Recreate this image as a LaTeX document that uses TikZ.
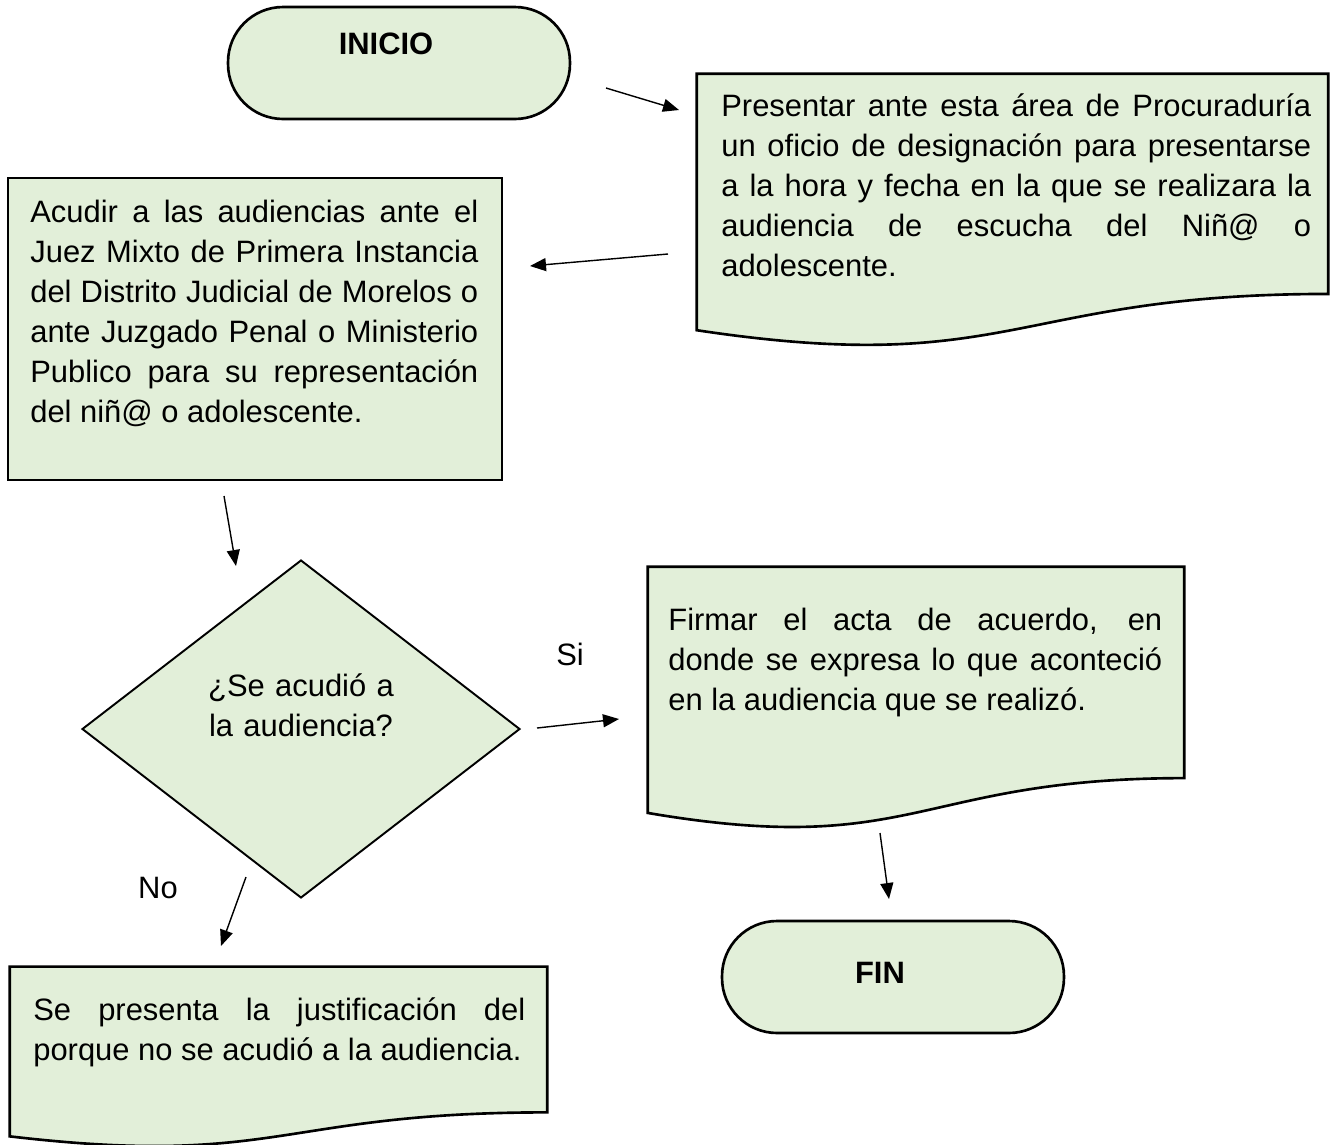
\documentclass[tikz,border=0pt]{standalone}
\usepackage{fontspec}
\setmainfont{Liberation Sans}
\usetikzlibrary{calc,arrows.meta,shapes.geometric}
\definecolor{boxgreen}{HTML}{E2EFD9}

\newcommand{\bodyfont}{\fontsize{17.6}{22.8}\selectfont\tolerance=10000\hyphenpenalty=10000}
% document outline (flat top, wavy bottom)
\newcommand{\drawdoc}[1]{%
  \filldraw[docline] (#1.north west) -- (#1.north east)
    -- ($(#1.north east)!0.802!(#1.south east)$)
    .. controls ($(#1.north)!0.802!(#1.south)$) and ($(#1.north)!1.1075!(#1.south)$)
    .. ($(#1.north west)!0.934!(#1.south west)$) -- cycle;}

\begin{document}
\begin{tikzpicture}[x=0.02cm, y=-0.02cm,
	pill/.style={rectangle, rounded corners=1.1cm, draw=black, fill=boxgreen, line width=1.5pt, minimum width=6.84cm, minimum height=2.24cm},
	docbox/.style={rectangle, draw=none, inner sep=0pt},
	docline/.style={draw=black, fill=boxgreen, line width=1.5pt},
	txt/.style={font=\bodyfont, inner sep=0pt, align=justify, anchor=base west},
	lbl/.style={font=\bodyfont, inner sep=0pt, anchor=base},
	arr/.style={-{Triangle[length=0.32cm,width=0.26cm]}, line width=0.8pt}]
	\useasboundingbox (0,0) rectangle (1333,1144);

	% start
	\node[pill] (inicio) at (399, 63) {};
	\node[lbl, font=\bodyfont\bfseries] (tinicio) at (386, 54) {INICIO};

	% boxes
	\node[docbox, minimum width=12.62cm, minimum height=5.48cm] (oficio) at (1012.5, 211) {};
	\drawdoc{oficio}
	\node[txt, text width=11.8cm] (toficio) at (721, 116) {Presentar ante esta área de Procuraduría\linebreak un oficio de designación para presentarse\linebreak a la hora y fecha en la que se realizara la\linebreak audiencia de escucha del Niñ@ o\linebreak adolescente.};

	\node[rectangle, draw=black, fill=boxgreen, line width=1.5pt, minimum width=9.88cm, minimum height=6.04cm] (acudir) at (255, 329) {};
	\node[txt, text width=8.96cm] (tacudir) at (30, 222) {Acudir a las audiencias ante el\linebreak Juez Mixto de Primera Instancia\linebreak del Distrito Judicial de Morelos o\linebreak ante Juzgado Penal o Ministerio\linebreak Publico para su representación\linebreak del niñ@ o adolescente.};

	\node[diamond, draw=black, fill=boxgreen, line width=1.1pt, inner sep=0pt, minimum width=8.76cm, minimum height=6.76cm] (pregunta) at (301, 729) {};
	\node[lbl, text width=5cm, align=center] (tpregunta) at (301, 696) {¿Se acudió a\\la audiencia?};

	\node[docbox, minimum width=10.72cm, minimum height=5.26cm] (acta) at (916, 698.5) {};
	\drawdoc{acta}
	\node[txt, text width=9.88cm] (tacta) at (668, 630) {Firmar el acta de acuerdo, en\linebreak donde se expresa lo que aconteció\linebreak en la audiencia que se realizó.};

	\node[docbox, minimum width=10.74cm, minimum height=3.62cm] (justif) at (278.5, 1057.5) {};
	\drawdoc{justif}
	\node[txt, text width=9.84cm] (tjustif) at (33, 1020) {Se presenta la justificación del\linebreak porque no se acudió a la audiencia.};

	% end
	\node[pill] (fin) at (893, 977) {};
	\node[lbl, font=\bodyfont\bfseries] (tfin) at (880, 983) {FIN};

	\node[lbl] (si) at (570, 665) {Si};
	\node[lbl] (no) at (158, 898) {No};

	% connectors
	\coordinate (a1s) at (606, 88);  \coordinate (a1e) at (679, 110);
	\coordinate (a2s) at (668, 254); \coordinate (a2e) at (530, 266);
	\coordinate (a3s) at (224, 496); \coordinate (a3e) at (236, 566);
	\coordinate (a4s) at (537, 728); \coordinate (a4e) at (619, 719);
	\coordinate (a5s) at (880, 833); \coordinate (a5e) at (889, 899);
	\coordinate (a6s) at (246, 877); \coordinate (a6e) at (221, 946);

	\path[arr] (a1s) edge (a1e);
	\path[arr] (a2s) edge (a2e);
	\path[arr] (a3s) edge (a3e);
	\path[arr] (a4s) edge (a4e);
	\path[arr] (a5s) edge (a5e);
	\path[arr] (a6s) edge (a6e);
\end{tikzpicture}
\end{document}
